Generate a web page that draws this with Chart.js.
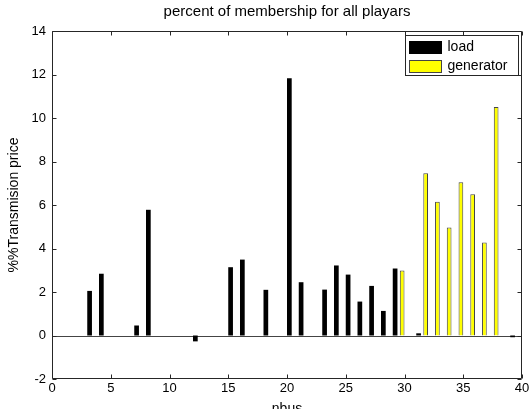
<!DOCTYPE html>
<html>
<head>
<meta charset="utf-8">
<script src="https://cdn.jsdelivr.net/npm/chart.js@4/dist/chart.umd.min.js"></script>
<style>
html, body { margin: 0; padding: 0; background: #fff; }
#wrap { width: 532px; height: 409px; }
</style>
</head>
<body>
<div id="wrap"><canvas id="grafico" width="532" height="409"></canvas></div>
<script>
// Dados
const loadBus = [3, 4, 7, 8, 12, 15, 16, 18, 20, 21, 23, 24, 25, 26, 27, 28, 29, 31, 39];
const loadValues = [2.05, 2.84, 0.46, 5.78, -0.27, 3.14, 3.49, 2.1, 11.83, 2.45, 2.11, 3.22, 2.8, 1.56, 2.28, 1.13, 3.08, 0.1, -0.08];
const genBus = [30, 32, 33, 34, 35, 36, 37, 38];
const genValues = [2.99, 7.46, 6.15, 4.97, 7.05, 6.5, 4.28, 10.51];
const seriesNames = ['load', 'generator'];
const xTicks = [0, 5, 10, 15, 20, 25, 30, 35, 40];
const yTicks = [-2, 0, 2, 4, 6, 8, 10, 12, 14];

const fonte = 'Liberation Sans, Arial, sans-serif';
const corEixo = '#262626';

function toPoints(xs, ys) {
    return xs.map((x, i) => ({ x: x, y: ys[i] }));
}

// Moldura, ticks para dentro e linha de base em zero
const molduraPlugin = {
    id: 'moldura',
    beforeDatasetsDraw(chart) {
        const { ctx, chartArea: a, scales } = chart;
        const y0 = scales.y.getPixelForValue(0);
        ctx.save();
        ctx.strokeStyle = '#444';
        ctx.lineWidth = 1;
        ctx.beginPath();
        ctx.moveTo(a.left, Math.round(y0) + 0.5);
        ctx.lineTo(a.right, Math.round(y0) + 0.5);
        ctx.stroke();
        ctx.restore();
    },
    afterDatasetsDraw(chart) {
        const { ctx, chartArea: a, scales } = chart;
        ctx.save();
        ctx.strokeStyle = corEixo;
        ctx.lineWidth = 1;
        ctx.beginPath();
        const L = Math.round(a.left) + 0.5, R = Math.round(a.right) - 0.5;
        const T = Math.round(a.top) + 0.5, B = Math.round(a.bottom) - 0.5;
        ctx.rect(L, T, R - L, B - T);
        xTicks.forEach(v => {
            const px = Math.round(scales.x.getPixelForValue(v)) + 0.5;
            ctx.moveTo(px, B); ctx.lineTo(px, B - 4);
            ctx.moveTo(px, T); ctx.lineTo(px, T + 4);
        });
        yTicks.forEach(v => {
            const py = Math.round(scales.y.getPixelForValue(v)) + 0.5;
            ctx.moveTo(L, py); ctx.lineTo(L + 4, py);
            ctx.moveTo(R, py); ctx.lineTo(R - 4, py);
        });
        ctx.stroke();

        // legenda dentro da área do gráfico
        const bx = 405.5, by = 35.5, bw = 113, bh = 40;
        ctx.fillStyle = '#fff';
        ctx.fillRect(bx, by, bw, bh);
        ctx.strokeRect(bx, by, bw, bh);
        const itens = [chart.data.datasets[1], chart.data.datasets[0]];
        ctx.font = '14px ' + fonte;
        ctx.textBaseline = 'middle';
        itens.forEach((ds, i) => {
            const cy = by + 12 + i * 19;
            ctx.fillStyle = ds.backgroundColor;
            ctx.fillRect(bx + 4, cy - 6, 32, 12);
            ctx.strokeStyle = ds.borderColor;
            ctx.strokeRect(bx + 4, cy - 6, 32, 12);
            ctx.fillStyle = '#000';
            ctx.fillText(ds.label, bx + 42, cy);
        });
        ctx.restore();
    }
};

const ctx = document.getElementById('grafico').getContext('2d');
const grafico = new Chart(ctx, {
    type: 'bar',
    data: {
        datasets: [
            {
                label: seriesNames[1],
                data: toPoints(genBus, genValues),
                backgroundColor: '#ffff00',
                borderColor: '#444',
                borderWidth: 1
            },
            {
                label: seriesNames[0],
                data: toPoints(loadBus, loadValues),
                backgroundColor: '#000000',
                borderColor: '#000000',
                borderWidth: 0
            }
        ]
    },
    options: {
        responsive: false,
        animation: false,
        categoryPercentage: 0.8,
        barPercentage: 1.0,
        layout: { padding: { left: 0, right: 10, top: 0, bottom: 0 } },
        plugins: {
            legend: { display: false },
            tooltip: { enabled: false },
            title: {
                display: true,
                fullSize: false,
                text: 'percent of membership for all playars',
                color: '#000',
                font: { family: fonte, size: 15, weight: 'normal' },
                padding: { top: 3, bottom: 10 }
            }
        },
        scales: {
            x: {
                type: 'linear',
                min: 0,
                max: 40,
                offset: false,
                afterFit(s) { s.height = 30; },
                afterBuildTicks(s) { s.ticks = xTicks.map(v => ({ value: v })); },
                grid: { display: false, drawTicks: false },
                border: { display: false },
                ticks: { color: '#000', padding: 2, font: { family: fonte, size: 13 }, maxRotation: 0 },
                title: {
                    display: true,
                    text: 'nbus',
                    color: '#000',
                    font: { family: fonte, size: 14 },
                    padding: { top: 0, bottom: -9 }
                }
            },
            y: {
                min: -2,
                max: 14,
                afterFit(s) { s.width = 52; },
                afterBuildTicks(s) { s.ticks = yTicks.map(v => ({ value: v })); },
                grid: { display: false, drawTicks: false },
                border: { display: false },
                ticks: { color: '#000', padding: 6, font: { family: fonte, size: 13 } },
                title: {
                    display: true,
                    text: '%%Transmision price',
                    color: '#000',
                    font: { family: fonte, size: 14 },
                    padding: { top: 6, bottom: 0 }
                }
            }
        }
    },
    plugins: [molduraPlugin]
});
</script>
</body>
</html>
